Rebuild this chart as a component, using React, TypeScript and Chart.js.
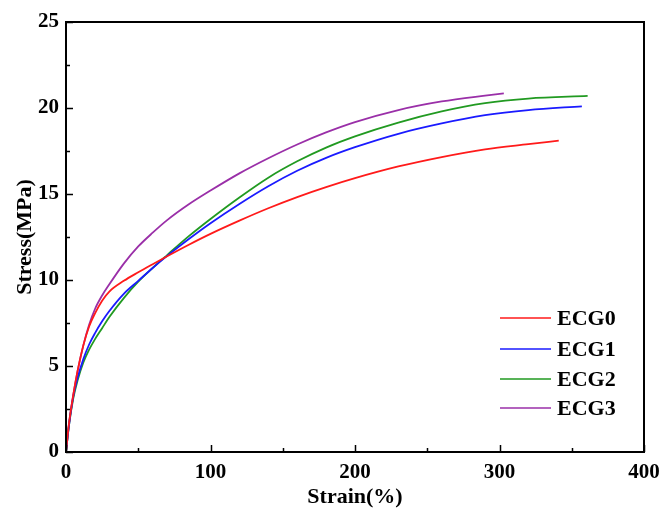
import React, { useEffect, useRef } from "react";
import { Chart, registerables } from "chart.js";

Chart.register(...registerables);

const seriesLabels = ["ECG0", "ECG1", "ECG2", "ECG3"];
const seriesColors = ["#ff1a1a", "#1a1aff", "#219a21", "#9a2fa8"];

const strainECG0 = [0, 2, 5, 8, 12, 16, 20, 25, 30, 40, 50, 60, 70, 85, 100, 120, 140, 160, 180, 200, 230, 260, 290, 320, 341];
const stressECG0 = [0, 1.6, 3.3, 4.7, 6.2, 7.3, 8.05, 8.8, 9.33, 9.95, 10.45, 10.92, 11.38, 12.05, 12.68, 13.45, 14.17, 14.82, 15.4, 15.92, 16.6, 17.15, 17.6, 17.9, 18.1];

const strainECG1 = [0, 2, 5, 8, 12, 16, 20, 25, 30, 40, 50, 60, 70, 85, 100, 120, 140, 160, 180, 200, 230, 260, 290, 320, 357];
const stressECG1 = [0, 1.5, 3.2, 4.3, 5.4, 6.25, 6.9, 7.6, 8.2, 9.2, 9.95, 10.7, 11.4, 12.38, 13.3, 14.42, 15.45, 16.35, 17.1, 17.72, 18.5, 19.1, 19.58, 19.88, 20.1];

const strainECG2 = [0, 2, 5, 8, 12, 16, 20, 25, 30, 40, 50, 60, 70, 85, 100, 120, 140, 160, 180, 200, 230, 260, 290, 320, 361];
const stressECG2 = [0, 1.5, 3.1, 4.15, 5.2, 5.95, 6.55, 7.2, 7.85, 8.95, 9.9, 10.7, 11.45, 12.55, 13.55, 14.8, 15.95, 16.9, 17.7, 18.35, 19.15, 19.8, 20.28, 20.55, 20.7];

const strainECG3 = [0, 2, 5, 8, 12, 16, 20, 25, 30, 40, 50, 60, 70, 85, 100, 120, 140, 160, 180, 200, 230, 260, 290, 303];
const stressECG3 = [0, 1.6, 3.3, 4.7, 6.2, 7.4, 8.3, 9.1, 9.75, 10.95, 11.95, 12.75, 13.48, 14.4, 15.2, 16.2, 17.08, 17.88, 18.58, 19.18, 19.88, 20.38, 20.72, 20.85];

const strains = [strainECG0, strainECG1, strainECG2, strainECG3];
const stresses = [stressECG0, stressECG1, stressECG2, stressECG3];

const xTicks = [0, 100, 200, 300, 400];
const yTicks = [0, 5, 10, 15, 20, 25];

const FONT = "'Liberation Serif', 'Times New Roman', serif";

const framePlugin = {
  id: "frameAndTicks",
  afterDraw(chart: any) {
    const { ctx, chartArea } = chart;
    const xs = chart.scales.x;
    const ys = chart.scales.y;
    ctx.save();
    ctx.strokeStyle = "#000";
    ctx.lineWidth = 2;
    ctx.strokeRect(chartArea.left, chartArea.top, chartArea.right - chartArea.left, chartArea.bottom - chartArea.top);
    ctx.lineWidth = 1.5;
    ctx.beginPath();
    for (let v = 0; v <= 400; v += 50) {
      const px = Math.round(xs.getPixelForValue(v)) + 0.5;
      const len = v % 100 === 0 ? 7 : 4;
      ctx.moveTo(px, chartArea.bottom);
      ctx.lineTo(px, chartArea.bottom - len);
    }
    for (let v = 0; v <= 25; v += 2.5) {
      const py = Math.round(ys.getPixelForValue(v)) + 0.5;
      const len = v % 5 === 0 ? 7 : 4;
      ctx.moveTo(chartArea.left, py);
      ctx.lineTo(chartArea.left + len, py);
    }
    ctx.stroke();

    // legend
    const lx0 = 500, lx1 = 551, tx = 557;
    const ly = [318, 349, 379, 408];
    ctx.font = `bold 22px ${FONT}`;
    ctx.textBaseline = "middle";
    ctx.textAlign = "left";
    chart.data.datasets.forEach((ds: any, i: number) => {
      ctx.strokeStyle = ds.borderColor;
      ctx.lineWidth = 1.5;
      ctx.beginPath();
      ctx.moveTo(lx0, ly[i]);
      ctx.lineTo(lx1, ly[i]);
      ctx.stroke();
      ctx.fillStyle = "#000";
      ctx.fillText(ds.label, tx, ly[i] + 1);
    });
    ctx.restore();
  },
};

export default function App() {
  const ref = useRef<HTMLCanvasElement>(null);
  useEffect(() => {
    document.body.style.margin = "0";
    document.body.style.overflow = "hidden";
    const chart = new Chart(ref.current as HTMLCanvasElement, {
      type: "line",
      data: {
        datasets: seriesLabels.map((label, i) => ({
          label,
          data: strains[i].map((x, j) => ({ x, y: stresses[i][j] })),
          borderColor: seriesColors[i],
          backgroundColor: seriesColors[i],
          borderWidth: 1.8,
          pointRadius: 0,
          cubicInterpolationMode: "monotone" as const,
          fill: false,
        })),
      },
      options: {
        animation: false,
        responsive: false,
        layout: { padding: { top: 22, right: 15, left: 0, bottom: 0 } },
        plugins: { legend: { display: false }, tooltip: { enabled: false } },
        scales: {
          x: {
            type: "linear",
            min: 0,
            max: 400,
            afterBuildTicks: (s: any) => { s.ticks = xTicks.map((v) => ({ value: v })); },
            afterFit: (s: any) => { s.height = 57; s.paddingLeft = 0; s.paddingRight = 0; },
            grid: { display: false, drawTicks: false },
            border: { display: false },
            ticks: { padding: 8, color: "#000", font: { family: FONT, size: 21, weight: "bold" }, maxRotation: 0 },
            title: { display: true, text: "Strain(%)", color: "#000", font: { family: FONT, size: 22, weight: "bold" }, padding: { top: 0, bottom: -2 } },
          },
          y: {
            type: "linear",
            min: 0,
            max: 25,
            afterBuildTicks: (s: any) => { s.ticks = yTicks.map((v) => ({ value: v })); },
            afterFit: (s: any) => { s.width = 66; s.paddingTop = 0; s.paddingBottom = 0; },
            grid: { display: false, drawTicks: false },
            border: { display: false },
            ticks: { padding: 7, color: "#000", font: { family: FONT, size: 21, weight: "bold" } },
            title: { display: true, text: "Stress(MPa)", color: "#000", font: { family: FONT, size: 22, weight: "bold" }, padding: { top: 12, bottom: 0 } },
          },
        },
      },
      plugins: [framePlugin],
    });
    return () => chart.destroy();
  }, []);
  return (
    <div style={{ width: 659, height: 509, background: "#fff" }}>
      <canvas ref={ref} width={659} height={509} style={{ display: "block" }} />
    </div>
  );
}
